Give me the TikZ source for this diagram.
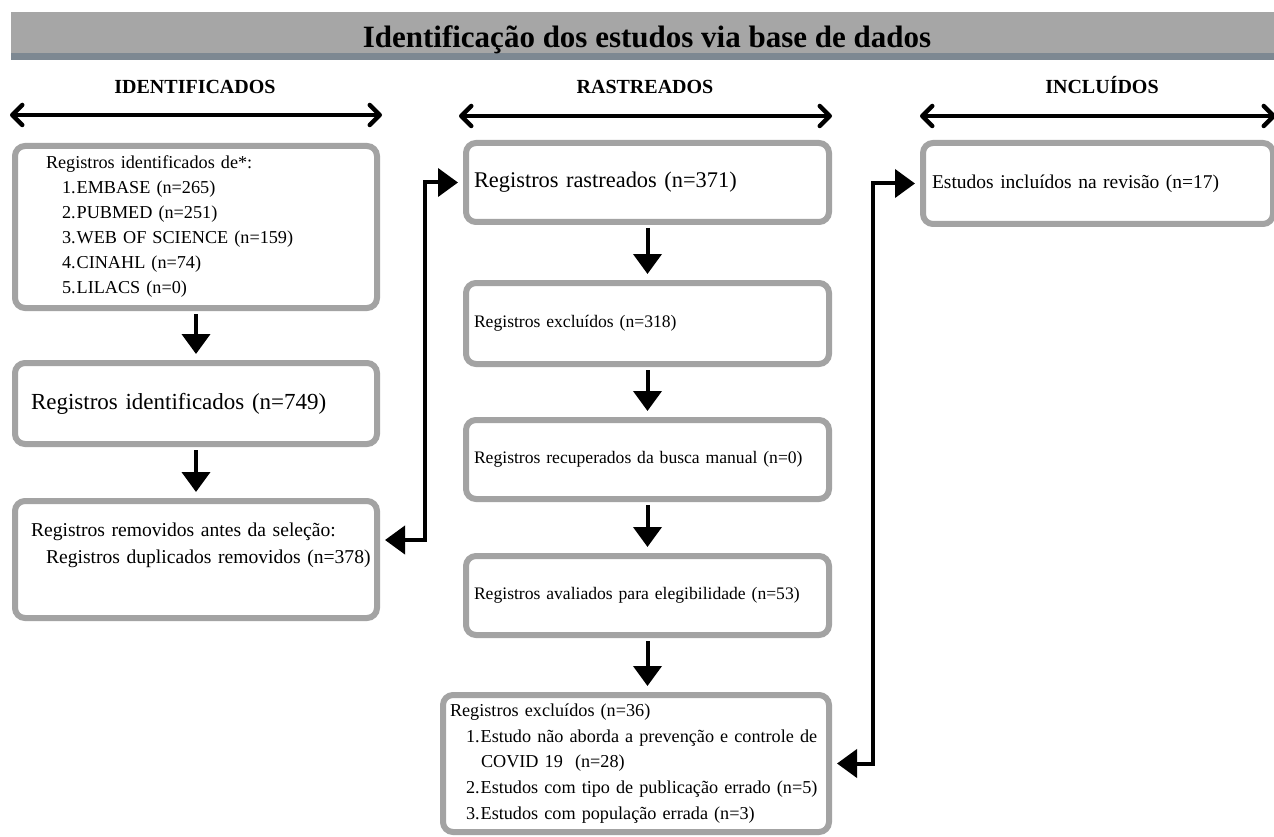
\documentclass[tikz,border=0pt]{standalone}
\usepackage{fontspec}
\setmainfont{Liberation Serif}
\usepackage{xcolor}
\usetikzlibrary{calc}
\usetikzlibrary{arrows.meta}
\definecolor{barra}{HTML}{A6A6A6}
\definecolor{faixa}{HTML}{7D8892}
\definecolor{borda}{HTML}{A3A3A3}
\newcommand{\fpeq}{\fontsize{17.6}{25}\selectfont}
\newcommand{\flista}{\fontsize{18.2}{25}\selectfont}
\newcommand{\fexcl}{\fontsize{18.2}{25.8}\selectfont}
\newcommand{\fmed}{\fontsize{19.6}{27}\selectfont}
\newcommand{\fgrande}{\fontsize{23}{28}\selectfont}
\tikzset{
	box/.style={draw=borda,line width=6pt,rounded corners=10pt,fill=white,align=left,inner ysep=4pt},
	titulo/.style={anchor=base,font=\fontsize{31}{36}\selectfont\bfseries},
	cab/.style={anchor=base,font=\fontsize{20}{24}\selectfont\bfseries},
	flow/.style={line width=4pt,-{Triangle[length=20pt,width=28pt]},shorten <=3pt,shorten >=6pt},
	link/.style={line width=4pt,{Triangle[length=20pt,width=28pt]}-{Triangle[length=20pt,width=28pt]},shorten <=5pt,shorten >=5pt},
	span/.style={line width=4.5pt,{Straight Barb[length=10pt,width=20pt,round]}-{Straight Barb[length=10pt,width=20pt,round]}}
}

\begin{document}
\begin{tikzpicture}[x=1pt,y=-1pt]
	\useasboundingbox (0,0) rectangle (1274,837);
	% faixa do titulo
	\fill[barra] (11,12) rectangle (1280,53);
	\fill[faixa] (11,53) rectangle (1280,60);
	\node[titulo] (tit) at (647,48) {Identificação dos estudos via base de dados};
	% cabecalhos das colunas
	\node[cab] (hid) at (195,94) {IDENTIFICADOS};
	\node[cab] (hras) at (645,94) {RASTREADOS};
	\node[cab] (hinc) at (1102,94) {INCLUÍDOS};
	\draw[span] (10,115) -- (382,115);
	\draw[span] (459,116) -- (832,116);
	\draw[span] (920,116) -- (1276,116);
	% coluna identificados
	\node[box,font=\flista,text width=300pt,inner xsep=31pt,minimum height=162pt] (fontes) at (196,227)
		{Registros identificados de*:\\
		\hspace*{16pt}1.\kern1pt EMBASE (n=265)\\
		\hspace*{16pt}2.\kern1pt PUBMED (n=251)\\
		\hspace*{16pt}3.\kern1pt WEB OF SCIENCE (n=159)\\
		\hspace*{16pt}4.\kern1pt CINAHL (n=74)\\
		\hspace*{16pt}5.\kern1pt LILACS (n=0)};
	\node[box,font=\fgrande,text width=330pt,inner xsep=16pt,minimum height=81pt] (ident) at (196,403.5)
		{Registros identificados (n=749)};
	\node[box,font=\fmed,text width=330pt,inner xsep=16pt,inner ysep=21pt,text height=14pt,text depth=61pt] (remov) at (196,559.5)
		{Registros removidos antes da seleção:\\
		\hspace*{15pt}\mbox{Registros duplicados removidos (n=378)}};
	% coluna rastreados
	\node[box,font=\fontsize{22.4}{28}\selectfont,text width=347pt,inner xsep=8pt,minimum height=79pt] (rast) at (647.5,182.5)
		{Registros rastreados (n=371)};
	\node[box,font=\fpeq,text width=347pt,inner xsep=8pt,minimum height=81pt] (excl) at (647.5,323.5)
		{Registros excluídos (n=318)};
	\node[box,font=\fpeq,text width=347pt,inner xsep=8pt,minimum height=79pt] (manual) at (647.5,459.5)
		{Registros recuperados da busca manual (n=0)};
	\node[box,font=\fpeq,text width=347pt,inner xsep=8pt,minimum height=79pt] (eleg) at (647.5,595.5)
		{Registros avaliados para elegibilidade (n=53)};
	\node[box,font=\fexcl,text width=372pt,inner xsep=7pt,minimum height=137pt] (excl2) at (636,763.5)
		{Registros excluídos (n=36)\\
		\hspace*{16pt}\mbox{1.\kern1pt Estudo não aborda a prevenção e controle de}\\
		\hspace*{31pt}COVID 19~~(n=28)\\
		\hspace*{16pt}\mbox{2.\kern1pt Estudos com tipo de publicação errado (n=5)}\\
		\hspace*{16pt}3.\kern1pt Estudos com população errada (n=3)};
	% coluna incluidos
	\node[box,font=\fontsize{19.5}{24}\selectfont,text width=332pt,inner xsep=9pt,minimum height=81pt] (incl) at (1098,183.5)
		{Estudos incluídos na revisão (n=17)};
	% setas
	\draw[flow] (fontes) -- (ident);
	\draw[flow] (ident) -- (remov);
	\draw[flow] (rast) -- (excl);
	\draw[flow] (excl) -- (manual);
	\draw[flow] (manual) -- (eleg);
	\draw[flow] (eleg.south) -- (eleg.south |- excl2.north);
	\draw[link] ([yshift=19.5pt]remov.east) -- ++(45,0) |- (rast.west);
	\draw[link] (incl.west) -- ++(-47,0) |- (excl2.east);
\end{tikzpicture}
\end{document}
